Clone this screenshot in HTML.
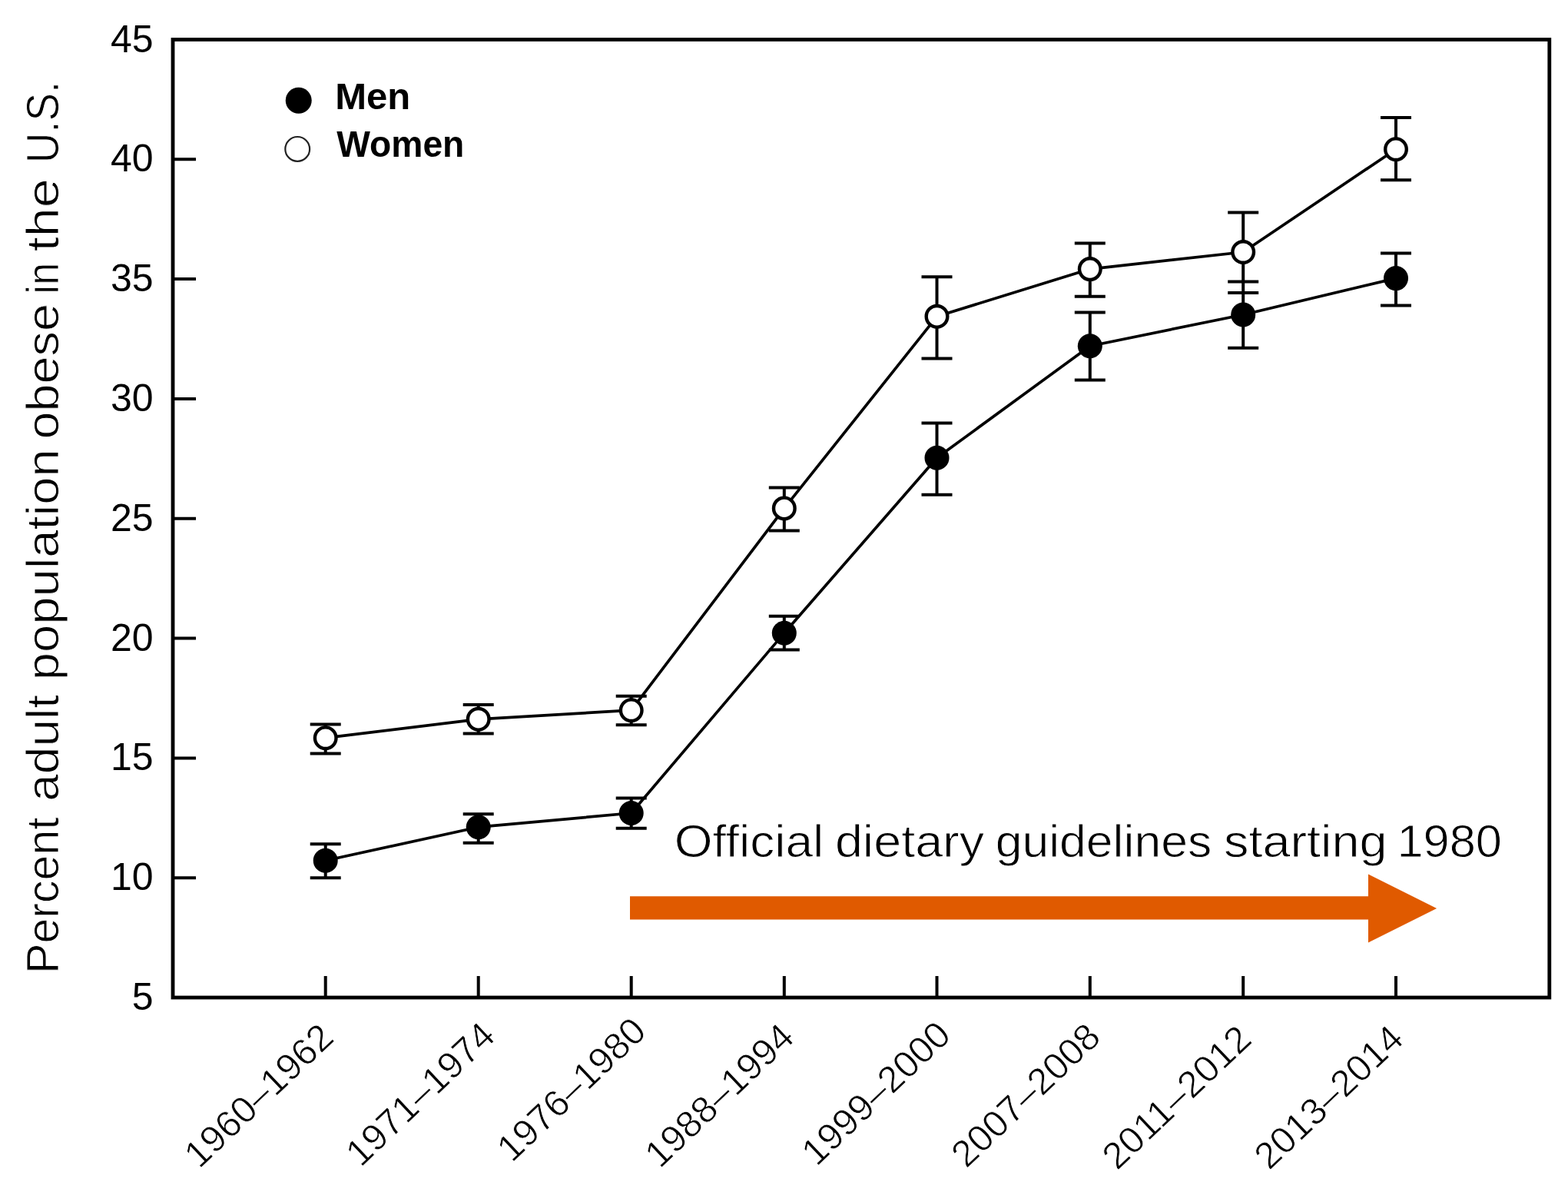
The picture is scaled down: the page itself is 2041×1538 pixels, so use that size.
<!DOCTYPE html><html><head><meta charset="utf-8"><title>Obesity chart</title>
<style>html,body{margin:0;padding:0;background:#fff;}svg{display:block;}</style></head><body>
<svg width="2041" height="1538" viewBox="0 0 2041 1538">
<rect width="2041" height="1538" fill="#fff"/>
<text transform="translate(76,1267.0) rotate(-90)" font-family="Liberation Sans, sans-serif" font-size="60" textLength="203.7" lengthAdjust="spacingAndGlyphs" fill="#000" stroke="#fff" stroke-width="0.9">Percent</text>
<text transform="translate(76,1042.7) rotate(-90)" font-family="Liberation Sans, sans-serif" font-size="60" textLength="138.7" lengthAdjust="spacingAndGlyphs" fill="#000" stroke="#fff" stroke-width="0.9">adult</text>
<text transform="translate(76,885.3) rotate(-90)" font-family="Liberation Sans, sans-serif" font-size="60" textLength="301.1" lengthAdjust="spacingAndGlyphs" fill="#000" stroke="#fff" stroke-width="0.9">population</text>
<text transform="translate(76,571.5) rotate(-90)" font-family="Liberation Sans, sans-serif" font-size="60" textLength="176.4" lengthAdjust="spacingAndGlyphs" fill="#000" stroke="#fff" stroke-width="0.9">obese</text>
<text transform="translate(76,382.4) rotate(-90)" font-family="Liberation Sans, sans-serif" font-size="60" textLength="40.5" lengthAdjust="spacingAndGlyphs" fill="#000" stroke="#fff" stroke-width="0.9">in</text>
<text transform="translate(76,327.2) rotate(-90)" font-family="Liberation Sans, sans-serif" font-size="60" textLength="95.1" lengthAdjust="spacingAndGlyphs" fill="#000" stroke="#fff" stroke-width="0.9">the</text>
<text transform="translate(76,212.3) rotate(-90)" font-family="Liberation Sans, sans-serif" font-size="60" textLength="106.6" lengthAdjust="spacingAndGlyphs" fill="#000" stroke="#fff" stroke-width="0.9">U.S.</text>
<text x="199.5" y="1314.0" text-anchor="end" font-family="Liberation Sans, sans-serif" font-size="50" fill="#000">5</text>
<text x="199.5" y="1158.2" text-anchor="end" font-family="Liberation Sans, sans-serif" font-size="50" fill="#000">10</text>
<text x="199.5" y="1002.4" text-anchor="end" font-family="Liberation Sans, sans-serif" font-size="50" fill="#000">15</text>
<text x="199.5" y="846.6" text-anchor="end" font-family="Liberation Sans, sans-serif" font-size="50" fill="#000">20</text>
<text x="199.5" y="690.8" text-anchor="end" font-family="Liberation Sans, sans-serif" font-size="50" fill="#000">25</text>
<text x="199.5" y="534.9" text-anchor="end" font-family="Liberation Sans, sans-serif" font-size="50" fill="#000">30</text>
<text x="199.5" y="379.1" text-anchor="end" font-family="Liberation Sans, sans-serif" font-size="50" fill="#000">35</text>
<text x="199.5" y="223.3" text-anchor="end" font-family="Liberation Sans, sans-serif" font-size="50" fill="#000">40</text>
<text x="199.5" y="67.5" text-anchor="end" font-family="Liberation Sans, sans-serif" font-size="50" fill="#000">45</text>
<rect x="225" y="51.5" width="1791.8" height="1246.5" fill="none" stroke="#000" stroke-width="4.8"/>
<path d="M225,1142.2H255 M225,986.4H255 M225,830.6H255 M225,674.8H255 M225,518.9H255 M225,363.1H255 M225,207.3H255 M423.7,1298V1270 M622.7,1298V1270 M821.7,1298V1270 M1020.8,1298V1270 M1219.5,1298V1270 M1418.8,1298V1270 M1618.2,1298V1270 M1817.0,1298V1270" stroke="#000" stroke-width="4" fill="none"/>
<text transform="translate(336.4,1425.0) rotate(-43.5)" x="0" y="16.97" text-anchor="middle" font-family="Liberation Sans, sans-serif" font-size="48.5" textLength="245" lengthAdjust="spacingAndGlyphs" fill="#000" stroke="#fff" stroke-width="0.8">1960–1962</text>
<text transform="translate(546.6,1423.0) rotate(-43.5)" x="0" y="16.97" text-anchor="middle" font-family="Liberation Sans, sans-serif" font-size="48.5" textLength="245" lengthAdjust="spacingAndGlyphs" fill="#000" stroke="#fff" stroke-width="0.8">1971–1974</text>
<text transform="translate(743.3,1417.1) rotate(-43.5)" x="0" y="16.97" text-anchor="middle" font-family="Liberation Sans, sans-serif" font-size="48.5" textLength="245" lengthAdjust="spacingAndGlyphs" fill="#000" stroke="#fff" stroke-width="0.8">1976–1980</text>
<text transform="translate(936.0,1424.8) rotate(-43.5)" x="0" y="16.97" text-anchor="middle" font-family="Liberation Sans, sans-serif" font-size="48.5" textLength="245" lengthAdjust="spacingAndGlyphs" fill="#000" stroke="#fff" stroke-width="0.8">1988–1994</text>
<text transform="translate(1139.8,1422.0) rotate(-43.5)" x="0" y="16.97" text-anchor="middle" font-family="Liberation Sans, sans-serif" font-size="48.5" textLength="245" lengthAdjust="spacingAndGlyphs" fill="#000" stroke="#fff" stroke-width="0.8">1999–2000</text>
<text transform="translate(1334.8,1424.5) rotate(-43.5)" x="0" y="16.97" text-anchor="middle" font-family="Liberation Sans, sans-serif" font-size="48.5" textLength="245" lengthAdjust="spacingAndGlyphs" fill="#000" stroke="#fff" stroke-width="0.8">2007–2008</text>
<text transform="translate(1531.2,1427.3) rotate(-43.5)" x="0" y="16.97" text-anchor="middle" font-family="Liberation Sans, sans-serif" font-size="48.5" textLength="245" lengthAdjust="spacingAndGlyphs" fill="#000" stroke="#fff" stroke-width="0.8">2011–2012</text>
<text transform="translate(1729.1,1427.1) rotate(-43.5)" x="0" y="16.97" text-anchor="middle" font-family="Liberation Sans, sans-serif" font-size="48.5" textLength="245" lengthAdjust="spacingAndGlyphs" fill="#000" stroke="#fff" stroke-width="0.8">2013–2014</text>
<path d="M820,1166.3H1781V1137.4L1870.1,1182L1781,1226.6V1196.6H820Z" fill="#E05A00"/>
<text x="877.8" y="1114.8" font-family="Liberation Sans, sans-serif" font-size="60" textLength="194.5" lengthAdjust="spacingAndGlyphs" fill="#000" stroke="#fff" stroke-width="0.9">Official</text>
<text x="1086.9" y="1114.8" font-family="Liberation Sans, sans-serif" font-size="60" textLength="194.1" lengthAdjust="spacingAndGlyphs" fill="#000" stroke="#fff" stroke-width="0.9">dietary</text>
<text x="1295.7" y="1114.8" font-family="Liberation Sans, sans-serif" font-size="60" textLength="281.5" lengthAdjust="spacingAndGlyphs" fill="#000" stroke="#fff" stroke-width="0.9">guidelines</text>
<text x="1593.0" y="1114.8" font-family="Liberation Sans, sans-serif" font-size="60" textLength="212.6" lengthAdjust="spacingAndGlyphs" fill="#000" stroke="#fff" stroke-width="0.9">starting</text>
<text x="1818.4" y="1114.8" font-family="Liberation Sans, sans-serif" font-size="60" textLength="136.5" lengthAdjust="spacingAndGlyphs" fill="#000" stroke="#fff" stroke-width="0.9">1980</text>
<path d="M423.7,960.2 L622.7,935.8 L821.7,924.2 L1020.8,661.4 L1219.5,411.8 L1418.8,350.1 L1618.2,328.0 L1817.0,194.2" stroke="#000" stroke-width="3.7" fill="none" stroke-linejoin="round"/>
<path d="M423.7,1119.7 L622.7,1076.2 L821.7,1058.0 L1020.8,823.7 L1219.5,595.8 L1418.8,450.2 L1618.2,409.5 L1817.0,362.1" stroke="#000" stroke-width="3.7" fill="none" stroke-linejoin="round"/>
<path d="M423.7,942.6V980.5M403.7,942.6H443.7M403.7,980.5H443.7 M622.7,917.1V954.6M602.7,917.1H642.7M602.7,954.6H642.7 M821.7,905.7V943.3M801.7,905.7H841.7M801.7,943.3H841.7 M1020.8,634.4V690.5M1000.8,634.4H1040.8M1000.8,690.5H1040.8 M1219.5,360.2V466.5M1199.5,360.2H1239.5M1199.5,466.5H1239.5 M1418.8,316.5V385.8M1398.8,316.5H1438.8M1398.8,385.8H1438.8 M1618.2,276.5V380.9M1598.2,276.5H1638.2M1598.2,380.9H1638.2 M1817.0,153.0V234.3M1797.0,153.0H1837.0M1797.0,234.3H1837.0 M423.7,1098.2V1142.3M403.7,1098.2H443.7M403.7,1142.3H443.7 M622.7,1059.2V1096.7M602.7,1059.2H642.7M602.7,1096.7H642.7 M821.7,1038.6V1077.8M801.7,1038.6H841.7M801.7,1077.8H841.7 M1020.8,801.8V845.5M1000.8,801.8H1040.8M1000.8,845.5H1040.8 M1219.5,550.5V643.7M1199.5,550.5H1239.5M1199.5,643.7H1239.5 M1418.8,406.6V494.6M1398.8,406.6H1438.8M1398.8,494.6H1438.8 M1618.2,366.6V452.8M1598.2,366.6H1638.2M1598.2,452.8H1638.2 M1817.0,329.6V397.5M1797.0,329.6H1837.0M1797.0,397.5H1837.0" stroke="#000" stroke-width="4.0" fill="none"/>
<circle cx="423.7" cy="1119.7" r="16.0" fill="#000"/>
<circle cx="622.7" cy="1076.2" r="16.0" fill="#000"/>
<circle cx="821.7" cy="1058.0" r="16.0" fill="#000"/>
<circle cx="1020.8" cy="823.7" r="16.0" fill="#000"/>
<circle cx="1219.5" cy="595.8" r="16.0" fill="#000"/>
<circle cx="1418.8" cy="450.2" r="16.0" fill="#000"/>
<circle cx="1618.2" cy="409.5" r="16.0" fill="#000"/>
<circle cx="1817.0" cy="362.1" r="16.0" fill="#000"/>
<circle cx="423.7" cy="960.2" r="13.8" fill="#fff" stroke="#000" stroke-width="4.4"/>
<circle cx="622.7" cy="935.8" r="13.8" fill="#fff" stroke="#000" stroke-width="4.4"/>
<circle cx="821.7" cy="924.2" r="13.8" fill="#fff" stroke="#000" stroke-width="4.4"/>
<circle cx="1020.8" cy="661.4" r="13.8" fill="#fff" stroke="#000" stroke-width="4.4"/>
<circle cx="1219.5" cy="411.8" r="13.8" fill="#fff" stroke="#000" stroke-width="4.4"/>
<circle cx="1418.8" cy="350.1" r="13.8" fill="#fff" stroke="#000" stroke-width="4.4"/>
<circle cx="1618.2" cy="328.0" r="13.8" fill="#fff" stroke="#000" stroke-width="4.4"/>
<circle cx="1817.0" cy="194.2" r="13.8" fill="#fff" stroke="#000" stroke-width="4.4"/>
<circle cx="388.7" cy="130.7" r="17" fill="#000"/>
<circle cx="387.2" cy="193.9" r="15.9" fill="#fff" stroke="#222" stroke-width="2.2"/>
<text x="436.3" y="142.1" font-family="Liberation Sans, sans-serif" font-weight="bold" font-size="48" textLength="98.0" lengthAdjust="spacingAndGlyphs" fill="#000">Men</text>
<text x="438.3" y="203.9" font-family="Liberation Sans, sans-serif" font-weight="bold" font-size="48" textLength="166.0" lengthAdjust="spacingAndGlyphs" fill="#000">Women</text>
</svg></body></html>
